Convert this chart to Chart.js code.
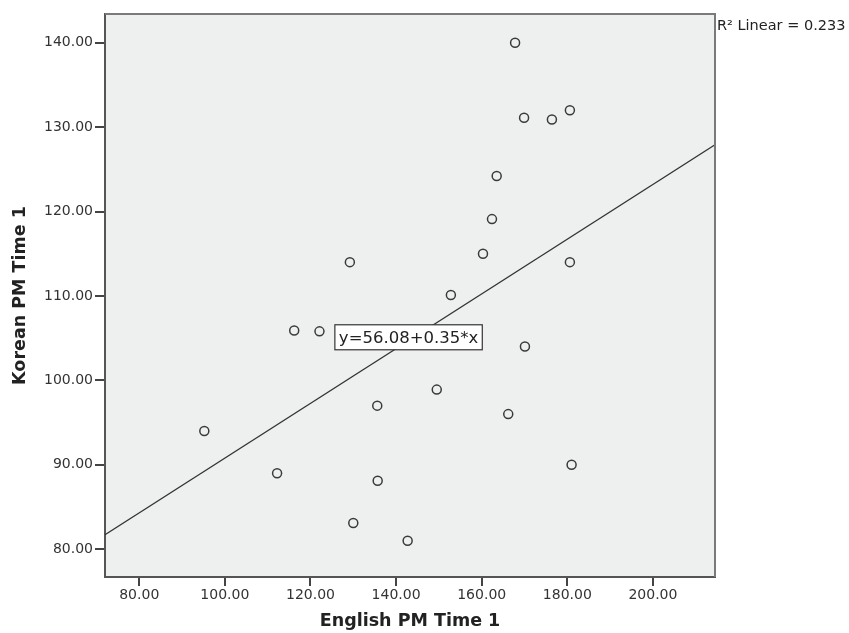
<!DOCTYPE html>
<html>
<head>
<meta charset="utf-8">
<script src="https://cdn.jsdelivr.net/npm/chart.js@4/dist/chart.umd.min.js"></script>
<style>
  html, body { margin: 0; padding: 0; background: #fff; }
  #wrap { width: 849px; height: 633px; }
</style>
</head>
<body>
<div id="wrap"><canvas id="chart" width="849" height="633"></canvas></div>
<script>
// English PM Time 1 (x) vs Korean PM Time 1 (y)
const englishPM = [167.8, 169.9, 176.4, 180.6, 163.5, 162.4, 160.3, 129.2, 180.6, 152.8, 116.2,
                   122.1, 170.1, 149.5, 135.6, 166.2, 181.0, 135.7, 130.0, 142.7, 112.2, 95.2];
const koreanPM  = [140.0, 131.1, 130.9, 132.0, 124.2, 119.1, 115.0, 114.0, 114.0, 110.1, 105.9,
                   105.8, 104.0, 98.9, 97.0, 96.0, 90.0, 88.1, 83.1, 81.0, 89.0, 94.0];

// fit line as drawn (ends at the plot edges)
const fitX = [72, 214.5];
const fitY = [81.7, 127.9];

const xTicks = [80, 100, 120, 140, 160, 180, 200];
const yTicks = [80, 90, 100, 110, 120, 130, 140];

const equationText = 'y=56.08+0.35*x';
const equationAt = { x: 125.7, y: 105.1 };
const r2Text = 'R\u00B2 Linear = 0.233';

const FONT = '"DejaVu Sans", Verdana, sans-serif';

const points = englishPM.map((x, i) => ({ x: x, y: koreanPM[i] }));
const fitLine = fitX.map((x, i) => ({ x: x, y: fitY[i] }));

const plotDecor = {
    id: 'plotDecor',
    beforeDraw(chart) {
        const { ctx, chartArea: a } = chart;
        ctx.save();
        ctx.fillStyle = '#eef0ef';
        ctx.fillRect(a.left, a.top, a.right - a.left, a.bottom - a.top);
        ctx.restore();
    },
    afterDraw(chart) {
        const { ctx, chartArea: a, scales } = chart;
        ctx.save();
        // top and right frame
        ctx.strokeStyle = '#7a7a7a';
        ctx.lineWidth = 2;
        ctx.beginPath();
        ctx.moveTo(a.left, a.top);
        ctx.lineTo(a.right, a.top);
        ctx.lineTo(a.right, a.bottom);
        ctx.stroke();

        // equation label box
        ctx.font = '16.5px ' + FONT;
        const px = scales.x.getPixelForValue(equationAt.x);
        const py = scales.y.getPixelForValue(equationAt.y);
        const w = ctx.measureText(equationText).width + 8;
        const h = 25;
        ctx.fillStyle = '#ffffff';
        ctx.fillRect(px, py - h / 2, w, h);
        ctx.strokeStyle = '#333';
        ctx.lineWidth = 1.2;
        ctx.strokeRect(px, py - h / 2, w, h);
        ctx.fillStyle = '#222';
        ctx.textBaseline = 'middle';
        ctx.fillText(equationText, px + 4, py + 1);

        // R squared note
        ctx.font = '14.5px ' + FONT;
        ctx.fillStyle = '#222';
        ctx.textBaseline = 'middle';
        ctx.fillText(r2Text, a.right + 2, a.top + 12);
        ctx.restore();
    }
};

new Chart(document.getElementById('chart'), {
    type: 'scatter',
    data: {
        datasets: [{
            data: points,
            pointStyle: 'circle',
            pointRadius: 4.5,
            pointBorderWidth: 1.5,
            borderColor: '#3a3a3a',
            backgroundColor: 'rgba(0,0,0,0)'
        }, {
            type: 'line',
            data: fitLine,
            borderColor: '#333',
            borderWidth: 1.3,
            pointRadius: 0,
            fill: false
        }]
    },
    options: {
        responsive: false,
        animation: false,
        layout: { padding: { top: 14, right: 134, left: 0, bottom: 0 } },
        plugins: { legend: { display: false }, tooltip: { enabled: false } },
        scales: {
            x: {
                type: 'linear',
                min: 72,
                max: 214.5,
                afterBuildTicks: s => { s.ticks = xTicks.map(v => ({ value: v })); },
                afterFit: s => { s.height = 56; },
                ticks: {
                    callback: v => v.toFixed(2),
                    font: { family: FONT, size: 14 },
                    color: '#333',
                    padding: 1,
                    maxRotation: 0
                },
                grid: { drawOnChartArea: false, drawTicks: true, tickLength: 9, color: '#444', lineWidth: 2 },
                border: { display: true, color: '#555', width: 2 },
                title: {
                    display: true,
                    text: 'English PM Time 1',
                    font: { family: FONT, size: 17.5, weight: 'bold' },
                    color: '#222',
                    padding: { top: 0, bottom: 1 }
                }
            },
            y: {
                type: 'linear',
                min: 76.7,
                max: 143.4,
                afterBuildTicks: s => { s.ticks = yTicks.map(v => ({ value: v })); },
                afterFit: s => { s.width = 105; },
                ticks: {
                    callback: v => v.toFixed(2),
                    font: { family: FONT, size: 14 },
                    color: '#333',
                    padding: 2
                },
                grid: { drawOnChartArea: false, drawTicks: true, tickLength: 10, color: '#444', lineWidth: 2 },
                border: { display: true, color: '#555', width: 2 },
                title: {
                    display: true,
                    text: 'Korean PM Time 1',
                    font: { family: FONT, size: 17.5, weight: 'bold' },
                    color: '#222',
                    padding: { top: 10, bottom: 0 }
                }
            }
        }
    },
    plugins: [plotDecor]
});
</script>
</body>
</html>
